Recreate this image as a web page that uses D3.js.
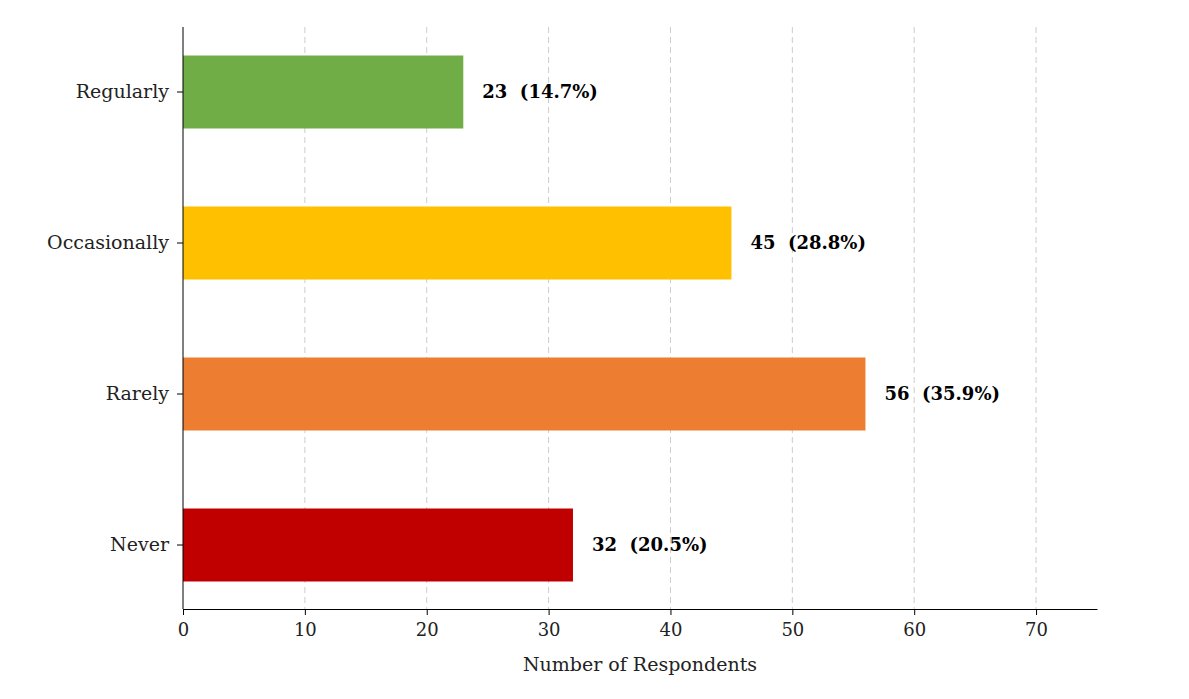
<!DOCTYPE html>
<html><head><meta charset="utf-8">
<script src="https://cdn.jsdelivr.net/npm/d3@7"></script>
<style>body{margin:0;background:#fff}text{font-family:"DejaVu Serif",serif}</style>
</head><body><svg id="c" width="1189" height="699"></svg>
<script>
const categories=["Regularly","Occasionally","Rarely","Never"];
const values=[23,45,56,32];
const percents=["14.7%","28.8%","35.9%","20.5%"];
const colors=["#70AD47","#FFC000","#ED7D31","#C00000"];
const xTicks=[0,10,20,30,40,50,60,70];
const svg=d3.select("#c");
const x=d3.scaleLinear().domain([0,75]).range([183,1097]);
const y=d3.scaleLinear().domain([-0.5,3.5]).range([16.5,620.5]);
const bh=73;
const g=svg.append("g");
g.selectAll(".grid").data(xTicks.slice(1)).join("line")
 .attr("x1",d=>x(d)).attr("x2",d=>x(d)).attr("y1",27).attr("y2",609)
 .attr("stroke","#ccc").attr("stroke-dasharray","6,4").attr("stroke-width",1);
g.selectAll(".bar").data(values).join("rect")
 .attr("x",x(0)).attr("y",(d,i)=>y(i)-bh/2).attr("width",d=>x(d)-x(0)).attr("height",bh)
 .attr("fill",(d,i)=>colors[i]);
g.selectAll(".lab").data(values).join("text")
 .attr("x",d=>x(d)+19).attr("y",(d,i)=>y(i)+6).attr("font-size",18).attr("font-weight","bold")
 .attr("xml:space","preserve").text((d,i)=>d+"  ("+percents[i]+")");
const xa=svg.append("g").attr("transform","translate(0,609)")
 .call(d3.axisBottom(x).tickValues(xTicks).tickSize(6).tickSizeOuter(0));
xa.select(".domain").attr("stroke","#000");
xa.selectAll("text").attr("font-size",18).attr("dy","1em").attr("fill","#222");
svg.append("line").attr("x1",183).attr("x2",183).attr("y1",27).attr("y2",609).attr("stroke","#000");
svg.selectAll(".yt").data(categories).join("g").each(function(d,i){
 const s=d3.select(this);
 s.append("line").attr("x1",177).attr("x2",183).attr("y1",y(i)).attr("y2",y(i)).attr("stroke","#000");
 s.append("text").attr("x",169).attr("y",y(i)+6).attr("text-anchor","end").attr("font-size",19).attr("fill","#222").text(d);
});
svg.append("text").attr("x",640).attr("y",671).attr("text-anchor","middle").attr("font-size",19).attr("fill","#222").text("Number of Respondents");
</script></body></html>
